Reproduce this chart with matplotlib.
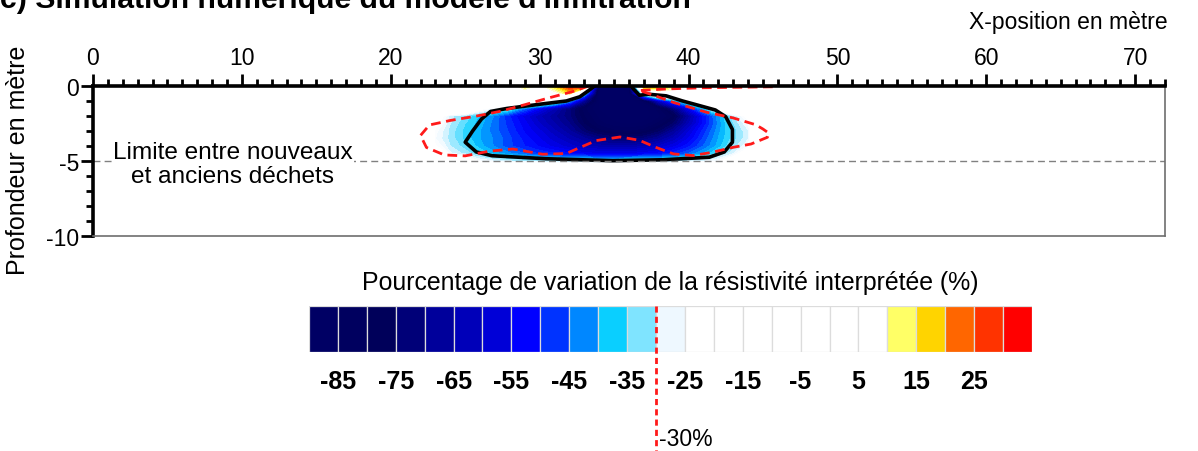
import matplotlib
matplotlib.use("Agg")
import matplotlib.pyplot as plt
import numpy as np
from matplotlib.colors import LinearSegmentedColormap
from matplotlib.ticker import MultipleLocator

plt.rcParams['font.family'] = ['Liberation Sans', 'DejaVu Sans']
plt.rcParams['axes.unicode_minus'] = False

# grid of the simulated change in interpreted resistivity (%)
x_pos = [22, 23, 24, 25, 26, 27, 28, 29, 30, 31, 32, 33, 34, 35, 36, 37, 38, 39, 40, 41, 42, 43, 44, 45, 46]
depth = [0.0, -0.5, -1.0, -1.5, -2.0, -2.5, -3.0, -3.5, -4.0, -4.5, -5.0, -5.5]
variation = [
    [0, 0, 0, 0, 0, 0, 0, 14, 5, 16, 30, 32, -88, -90, -82, 30, 20, 15, 6, 0, 0, 0, 0, 0, 0],
    [0, 0, 0, 0, 0, 0, 0, 0, 0, 4, 14, -34, -88, -90, -88, -22, 2, 0, 0, 0, 0, 0, 0, 0, 0],
    [0, 0, 0, 0, 0, 0, 0, 0, -10, -22, -40, -68, -88, -90, -90, -84, -60, -42, -28, -10, 0, 0, 0, 0, 0],
    [0, 0, 0, 0, -20, -27, -33, -44, -54, -63, -72, -82, -88, -90, -90, -89, -84, -72, -54, -38, -20, 0, 0, 0, 0],
    [0, -15, -29, -33, -38, -43, -50, -56, -62, -67, -72, -80, -86, -89, -90, -89, -86, -80, -66, -52, -41, -31, -20, 0, 0],
    [0, -20, -30, -35, -39, -44, -49, -54, -60, -65, -70, -78, -84, -87, -88, -87, -82, -75, -63, -52, -42, -33, -25, 0, 0],
    [0, -24, -31, -36, -40, -44, -48, -53, -57, -62, -67, -74, -79, -82, -83, -81, -76, -68, -58, -49, -41, -34, -28, 0, 0],
    [0, -25, -31, -36, -40, -43, -47, -51, -55, -59, -63, -67, -71, -73, -73, -72, -68, -62, -55, -47, -40, -34, -28, 0, 0],
    [0, -22, -30, -34, -39, -43, -47, -50, -53, -56, -59, -62, -64, -65, -65, -63, -60, -56, -51, -45, -39, -32, -25, 0, 0],
    [0, 0, -27, -31, -35, -39, -42, -45, -48, -50, -52, -54, -55, -55, -55, -54, -52, -49, -45, -40, -34, -28, -15, 0, 0],
    [0, 0, 0, -15, -25, -28, -30, -31, -32, -33, -34, -34, -35, -35, -34, -34, -33, -32, -30, -28, -25, -15, 0, 0, 0],
    [0, 0, 0, 0, 0, 0, 0, 0, 0, 0, 0, 0, 0, 0, 0, 0, 0, 0, 0, 0, 0, 0, 0, 0, 0],
]

# interpreted -30% outline
front_x = [33.7, 33.3, 32.7, 31.8, 30.0, 27.8, 26.7, 26.1, 25.5, 25.0, 25.75, 26.8, 30.4, 34.9,
           38.3, 41.4, 42.4, 42.95, 42.95, 42.5, 41.8, 39.6, 38.5, 37.3, 36.7, 36.3, 36.15]
front_d = [0.0, -0.3, -0.72, -1.0, -1.22, -1.5, -1.7, -2.2, -3.0, -3.75, -4.4, -4.65, -4.85, -4.98,
           -4.92, -4.75, -4.4, -3.75, -2.9, -2.05, -1.6, -1.0, -0.66, -0.55, -0.62, -0.2, 0.0]

# infiltration model outline
model_x = [33.3, 32.2, 30.6, 29.0, 27.4, 25.8, 24.0, 22.6, 22.0, 22.4, 23.6, 25.0, 26.6, 28.2, 30.2,
           31.8, 32.6, 33.8, 35.4, 36.7, 37.8, 39.0, 40.3, 41.6, 43.0, 44.2, 45.3, 45.4, 45.0, 44.5,
           43.0, 41.2, 39.0, 37.6, 36.7]
model_d = [0.0, -0.38, -0.8, -1.25, -1.68, -2.0, -2.3, -2.6, -3.3, -4.1, -4.6, -4.66, -4.35, -4.2, -4.55,
           -4.5, -4.15, -3.64, -3.4, -3.62, -4.09, -4.53, -4.64, -4.42, -4.09, -3.87, -3.42, -3.15, -2.87, -2.58,
           -2.13, -1.75, -1.1, -0.6, -0.3]
top_x = [36.8, 38.5, 41.0, 46.0]
top_d = [-0.3, -0.2, -0.12, -0.05]

# colour scale classes (%)
class_edges = list(range(-90, 40, 5))
class_colors = ['#000064', '#00005f', '#00005a', '#000078', '#00009b', '#0000b9', '#0000d7', '#0000ff',
                '#0033ff', '#0087ff', '#0acfff', '#7fe4ff', '#eef8ff',
                '#ffffff', '#ffffff', '#ffffff', '#ffffff', '#ffffff', '#ffffff', '#ffffff',
                '#ffff66', '#ffd400', '#ff6600', '#ff3300', '#ff0000']
cbar_ticks = [-85, -75, -65, -55, -45, -35, -25, -15, -5, 5, 15, 25]

vmin, vmax = class_edges[0], class_edges[-1]
stops = [0.0] + [((a + b) / 2 - vmin) / (vmax - vmin) for a, b in zip(class_edges[:-1], class_edges[1:])] + [1.0]
cmap = LinearSegmentedColormap.from_list(
    'resist', list(zip(stops, [class_colors[0]] + class_colors + [class_colors[-1]])))

fig = plt.figure(figsize=(11.98, 4.52), dpi=100)
ax = fig.add_axes([0.0776, 0.4757, 0.8948, 0.3319])

X, D = np.meshgrid(x_pos, depth)
ax.contourf(X, D, np.array(variation), levels=np.arange(vmin, vmax + 2.5, 2.5), cmap=cmap,
            vmin=vmin, vmax=vmax, antialiased=False)
ax.plot(front_x, front_d, color='black', lw=2.6, solid_joinstyle='round')
ax.plot(model_x, model_d, color='#ff1a1a', lw=2, linestyle=(0, (3.5, 2)))
ax.plot(top_x, top_d, color='#ff1a1a', lw=2, linestyle=(0, (3.5, 2)))

ax.axhline(-5, color='#808080', lw=1, linestyle=(0, (5, 3)))
ax.text(9.4, -5.2, 'Limite entre nouveaux\net anciens déchets', ha='center', va='center',
        fontsize=17.6, linespacing=1.15,
        bbox=dict(facecolor='white', edgecolor='none', pad=0.5))

ax.set_xlim(0, 72)
ax.set_ylim(-10, 0)
ax.xaxis.set_major_locator(MultipleLocator(10))
ax.xaxis.set_minor_locator(MultipleLocator(1))
ax.yaxis.set_major_locator(MultipleLocator(5))
ax.yaxis.set_minor_locator(MultipleLocator(1))
ax.tick_params(axis='x', which='both', top=True, bottom=False, labeltop=True, labelbottom=False,
               direction='out', width=2, pad=3, labelsize=16.5)
ax.tick_params(axis='y', which='both', direction='out', width=2, pad=1, labelsize=16.5)
ax.tick_params(which='major', length=9)
ax.tick_params(which='minor', length=5)
for side in ['top', 'left']:
    ax.spines[side].set_linewidth(2.6)
    ax.spines[side].set_color('black')
for side in ['bottom', 'right']:
    ax.spines[side].set_linewidth(1.2)
    ax.spines[side].set_color('#6e6e6e')

fig.text(0.975, 0.951, 'X-position en mètre', ha='right', va='center', fontsize=16.5)
fig.text(0.015, 0.646, 'Profondeur en mètre', ha='center', va='center', rotation=90, fontsize=18)
fig.text(0.0, 0.9834, "c) Simulation numérique du modèle d'infiltration", ha='left', va='baseline',
         fontsize=21.7, fontweight='bold')

# colour scale
cax = fig.add_axes([0.2579, 0.219, 0.6035, 0.1018])
cax.bar(class_edges[:-1], [1] * len(class_colors), width=5, align='edge', color=class_colors,
        edgecolor='#dcdcdc', linewidth=0.9)
cax.set_xlim(vmin, vmax)
cax.set_ylim(0, 1)
cax.set_xticks(cbar_ticks)
cax.set_yticks([])
cax.tick_params(axis='x', length=0, pad=12, labelsize=18)
for lab in cax.get_xticklabels():
    lab.set_fontweight('bold')
for s in cax.spines.values():
    s.set_visible(False)
cax.set_title('Pourcentage de variation de la résistivité interprétée (%)', fontsize=17.9, pad=12)
cax.plot([-30, -30], [1.0, -2.2], color='#ff1a1a', lw=2, linestyle=(0, (2.2, 1.5)), clip_on=False)
cax.text(-29.4, -1.89, '-30%', ha='left', va='center', fontsize=16.5)

fig.savefig('out.png', dpi=100)
